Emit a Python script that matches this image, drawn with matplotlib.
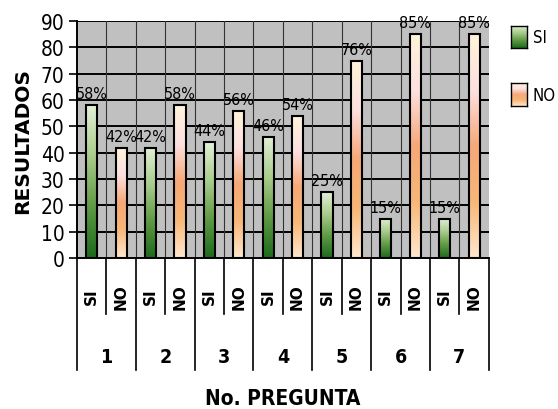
import numpy as np
import matplotlib.pyplot as plt
from matplotlib.colors import LinearSegmentedColormap
from matplotlib.patches import Rectangle
import matplotlib.transforms as mtransforms

# data
preguntas = ['1', '2', '3', '4', '5', '6', '7']
si_vals = [58, 42, 44, 46, 25, 15, 15]
no_vals = [42, 58, 56, 54, 75, 85, 85]
si_labels = ['58%', '42%', '44%', '46%', '25%', '15%', '15%']
no_labels = ['42%', '58%', '56%', '54%', '76%', '85%', '85%']

NARROW = dict(family='DejaVu Sans', stretch='condensed')

green_cm = LinearSegmentedColormap.from_list(
  'g', ['#1d6b1d', '#5f9a44', '#a9cc8c', '#e2f0d6'])
orange_cm = LinearSegmentedColormap.from_list(
  'o', ['#ffe6cc', '#f7b777', '#f6a878', '#fde0e0', '#fff3d9'])


def grad_bar(ax, x, h, w, cmap):
  rect = Rectangle((x - w / 2, 0), w, h, facecolor='none', edgecolor='black',
                   linewidth=1.5, zorder=4)
  ax.add_patch(rect)
  grad = np.linspace(0, 1, 100).reshape(-1, 1)
  im = ax.imshow(grad, cmap=cmap, origin='lower', aspect='auto',
                 extent=[x - w / 2, x + w / 2, 0, h], zorder=3)
  im.set_clip_path(rect)


fig = plt.figure(figsize=(5.58, 4.10), dpi=100)
ax = fig.add_axes([0.138, 0.368, 0.738, 0.578])
ax.set_facecolor('#c0c0c0')

bw = 0.38
for i in range(len(preguntas)):
  xs, xn = 2 * i, 2 * i + 1
  grad_bar(ax, xs, si_vals[i], bw, green_cm)
  grad_bar(ax, xn, no_vals[i], bw, orange_cm)
  ax.text(xs, si_vals[i] + 1.5, si_labels[i], ha='center', va='bottom',
          fontsize=11.5, zorder=5, **NARROW)
  ax.text(xn, no_vals[i] + 1.5, no_labels[i], ha='center', va='bottom',
          fontsize=11.5, zorder=5, **NARROW)

ax.set_xlim(-0.5, 13.5)
ax.set_ylim(0, 90)
ax.set_yticks(range(0, 91, 10))
ax.set_yticklabels([str(v) for v in range(0, 91, 10)], fontsize=15, **NARROW)
ax.tick_params(axis='y', length=6, width=1.2, pad=3)
ax.set_xticks([])
for y in range(10, 91, 10):
  ax.axhline(y, color='black', linewidth=1.4, zorder=1)
for x in np.arange(0.5, 13.5, 1):
  ax.axvline(x, color='#333333', linewidth=0.8, zorder=1)
for s in ['top', 'right']:
  ax.spines[s].set_visible(False)
ax.spines['left'].set_linewidth(1.4)
ax.spines['bottom'].set_linewidth(1.4)

# category table below the axis
trans = mtransforms.blended_transform_factory(ax.transData, ax.transAxes)
for x in np.arange(-0.5, 14, 2):
  ax.plot([x, x], [0, -0.47], transform=trans, color='black', lw=1.2, clip_on=False)
for x in np.arange(0.5, 14, 2):
  ax.plot([x, x], [0, -0.236], transform=trans, color='black', lw=1.2, clip_on=False)
for i, p in enumerate(preguntas):
  ax.text(2 * i, -0.16, 'SI', transform=trans, rotation=90, ha='center', va='center',
          fontsize=11, fontweight='bold', family='DejaVu Sans')
  ax.text(2 * i + 1, -0.16, 'NO', transform=trans, rotation=90, ha='center', va='center',
          fontsize=11, fontweight='bold', family='DejaVu Sans')
  ax.text(2 * i + 0.5, -0.415, p, transform=trans, ha='center', va='center',
          fontsize=14, fontweight='bold', **NARROW)

ax.text(6.5, -0.59, 'No. PREGUNTA', transform=trans, ha='center', va='center',
        fontsize=15, fontweight='bold', **NARROW)
ax.set_ylabel('RESULTADOS', fontsize=14.5, fontweight='bold', family='DejaVu Sans',
              labelpad=6)

# legend
lx = 0.915
for j, (lab, cm) in enumerate([('SI', green_cm), ('NO', orange_cm)]):
  ly = 0.88 - j * 0.14
  lax = fig.add_axes([lx, ly, 0.03, 0.055])
  lax.imshow(np.linspace(0, 1, 50).reshape(-1, 1), cmap=cm, origin='lower', aspect='auto')
  lax.set_xticks([])
  lax.set_yticks([])
  for s in lax.spines.values():
    s.set_linewidth(1.0)
  fig.text(lx + 0.04, ly + 0.027, lab, ha='left', va='center', fontsize=12,
           **NARROW)

fig.savefig('out.png', dpi=100)
